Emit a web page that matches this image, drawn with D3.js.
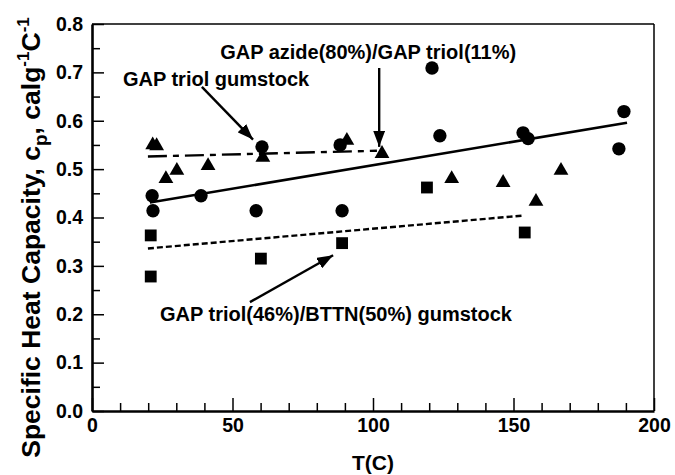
<!DOCTYPE html>
<html>
<head>
<meta charset="utf-8">
<script src="https://cdn.jsdelivr.net/npm/d3@7"></script>
<style>
  html, body { margin: 0; padding: 0; background: #fff; }
  svg { display: block; }
  text { font-family: "Liberation Sans", Arial, Helvetica, sans-serif; font-weight: bold; fill: #000; }
</style>
</head>
<body>
<svg id="chart" width="675" height="475"></svg>
<script>
// ---- data ----
const circleT  = [21.4, 21.7, 38.8, 58.4, 60.5, 88.3, 89.0, 121.0, 123.8, 153.4, 155.2, 189.3, 187.5];
const circleCp = [0.445, 0.414, 0.445, 0.414, 0.546, 0.550, 0.414, 0.709, 0.569, 0.575, 0.563, 0.619, 0.542];

const triangleT  = [21.6, 23.0, 26.3, 30.2, 41.3, 60.8, 90.7, 103.2, 128.0, 146.3, 158.0, 166.9];
const triangleCp = [0.550, 0.548, 0.480, 0.497, 0.507, 0.524, 0.559, 0.532, 0.480, 0.472, 0.433, 0.497];

const squareT  = [20.9, 20.9, 60.1, 89.0, 119.2, 154.0];
const squareCp = [0.363, 0.278, 0.315, 0.347, 0.462, 0.369];

const fitSolidT = [20.6, 190.4],  fitSolidCp = [0.431, 0.596];
const fitDashDotT = [19.9, 101.4], fitDashDotCp = [0.526, 0.538];
const fitDashedT = [19.9, 153.4], fitDashedCp = [0.336, 0.404];

const xMajorTicks = [0, 50, 100, 150, 200];
const xMinorTicks = [10, 20, 30, 40, 60, 70, 80, 90, 110, 120, 130, 140, 160, 170, 180, 190];
const yMajorTicks = [0.0, 0.1, 0.2, 0.3, 0.4, 0.5, 0.6, 0.7, 0.8];
const yMinorTicks = [0.05, 0.15, 0.25, 0.35, 0.45, 0.55, 0.65, 0.75];

const annoLabels = ["GAP azide(80%)/GAP triol(11%)", "GAP triol gumstock", "GAP triol(46%)/BTTN(50%) gumstock"];
const annoLabelT  = [45.6, 11.0, 24.2];
const annoLabelCp = [0.728, 0.672, 0.186];
const arrowFromT  = [102.2, 39.1, 56.2];
const arrowFromCp = [0.709, 0.670, 0.225];
const arrowToT    = [102.2, 57.3, 85.8];
const arrowToCp   = [0.546, 0.561, 0.322];

const xTitle = "T(C)";

// ---- layout ----
const svg = d3.select("#chart");
const mLeft = 92, mRight = 654, mTop = 24, mBottom = 411;
const x = d3.scaleLinear().domain([0, 200]).range([mLeft, mRight]);
const y = d3.scaleLinear().domain([0, 0.8]).range([mBottom, mTop]);

// frame
svg.append("line").attr("x1", mLeft).attr("x2", mRight).attr("y1", mTop).attr("y2", mTop)
  .attr("stroke", "#000").attr("stroke-width", 1.5);
svg.append("line").attr("x1", mRight).attr("x2", mRight).attr("y1", mTop).attr("y2", mBottom)
  .attr("stroke", "#000").attr("stroke-width", 1.5);

// axes
const gx = svg.append("g").attr("transform", `translate(0,${mBottom})`);
gx.call(d3.axisBottom(x).tickValues(xMajorTicks).tickSizeInner(-13).tickSizeOuter(0).tickPadding(9).tickFormat(d3.format("d")));
const gxm = svg.append("g").attr("transform", `translate(0,${mBottom})`);
gxm.call(d3.axisBottom(x).tickValues(xMinorTicks).tickSizeInner(-8).tickSizeOuter(0).tickFormat(""));
gxm.select(".domain").remove();

const gy = svg.append("g").attr("transform", `translate(${mLeft},0)`);
gy.call(d3.axisLeft(y).tickValues(yMajorTicks).tickSizeInner(-12).tickSizeOuter(0).tickPadding(9).tickFormat(d3.format(".1f")));
const gym = svg.append("g").attr("transform", `translate(${mLeft},0)`);
gym.call(d3.axisLeft(y).tickValues(yMinorTicks).tickSizeInner(-8).tickSizeOuter(0).tickFormat(""));
gym.select(".domain").remove();

svg.selectAll(".domain").attr("stroke", "#000").attr("stroke-width", 2.6);
svg.selectAll(".tick line").attr("stroke", "#000").attr("stroke-width", 1.5);
svg.selectAll(".tick text").attr("font-size", 19.5).attr("font-family", "Liberation Sans, Arial, sans-serif")
  .attr("font-weight", "bold").attr("fill", "#000");
gx.selectAll(".tick text").attr("dy", "0.6em");

// axis titles
svg.append("text").attr("x", (mLeft + mRight) / 2).attr("y", 470).attr("text-anchor", "middle")
  .attr("font-size", 21).text(xTitle);

const yt = svg.append("text").attr("transform", `translate(40,${(mTop + mBottom) / 2 + 20}) rotate(-90)`)
  .attr("text-anchor", "middle").attr("font-size", 26.5);
yt.append("tspan").text("Specific Heat Capacity, c");
yt.append("tspan").attr("font-size", 19).attr("dy", 7).text("p");
yt.append("tspan").attr("dy", -7).text(", calg");
yt.append("tspan").attr("font-size", 17).attr("dy", -11).text("-1");
yt.append("tspan").attr("dy", 11).text("C");
yt.append("tspan").attr("font-size", 17).attr("dy", -11).text("-1");

// fit lines
const line = d3.line().x(d => x(d[0])).y(d => y(d[1]));
svg.append("path").datum(d3.zip(fitSolidT, fitSolidCp)).attr("d", line)
  .attr("fill", "none").attr("stroke", "#000").attr("stroke-width", 2.6);
svg.append("path").datum(d3.zip(fitDashDotT, fitDashDotCp)).attr("d", line)
  .attr("fill", "none").attr("stroke", "#000").attr("stroke-width", 2.4).attr("stroke-dasharray", "19,6,6,6");
svg.append("path").datum(d3.zip(fitDashedT, fitDashedCp)).attr("d", line)
  .attr("fill", "none").attr("stroke", "#000").attr("stroke-width", 2.4).attr("stroke-dasharray", "6,3");

// markers
const sym = (type, size) => d3.symbol().type(type).size(size)();
svg.append("g").selectAll("path").data(d3.zip(circleT, circleCp)).join("path")
  .attr("transform", d => `translate(${x(d[0])},${y(d[1])})`).attr("d", sym(d3.symbolCircle, 140)).attr("fill", "#000");
svg.append("g").selectAll("path").data(d3.zip(triangleT, triangleCp)).join("path")
  .attr("transform", d => `translate(${x(d[0])},${y(d[1])})`).attr("d", sym(d3.symbolTriangle, 95)).attr("fill", "#000");
svg.append("g").selectAll("path").data(d3.zip(squareT, squareCp)).join("path")
  .attr("transform", d => `translate(${x(d[0])},${y(d[1])})`).attr("d", sym(d3.symbolSquare, 140)).attr("fill", "#000");

// arrows
svg.append("defs").append("marker").attr("id", "ah").attr("viewBox", "0 0 16 12")
  .attr("refX", 16).attr("refY", 6).attr("markerWidth", 16).attr("markerHeight", 12)
  .attr("markerUnits", "userSpaceOnUse").attr("orient", "auto")
  .append("path").attr("d", "M0,0 L16,6 L0,12 Z").attr("fill", "#000");
svg.append("g").selectAll("line").data(d3.range(arrowFromT.length)).join("line")
  .attr("x1", i => x(arrowFromT[i])).attr("y1", i => y(arrowFromCp[i]))
  .attr("x2", i => x(arrowToT[i])).attr("y2", i => y(arrowToCp[i]))
  .attr("stroke", "#000").attr("stroke-width", 2.4).attr("marker-end", "url(#ah)");

// annotation labels
svg.append("g").selectAll("text").data(d3.range(annoLabels.length)).join("text")
  .attr("x", i => x(annoLabelT[i])).attr("y", i => y(annoLabelCp[i]))
  .attr("font-size", 20).text(i => annoLabels[i]);
</script>
</body>
</html>
